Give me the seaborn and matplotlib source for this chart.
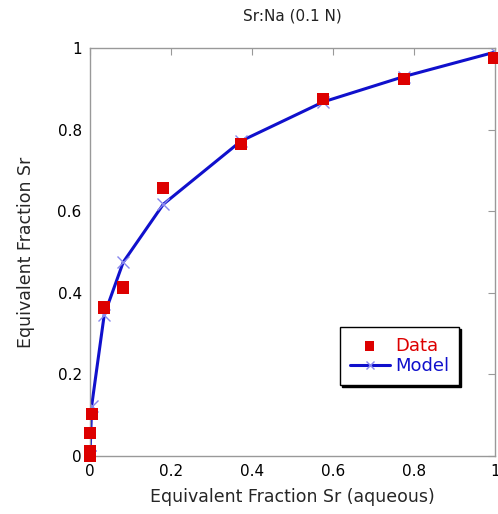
import numpy as np
import pandas as pd
import seaborn as sns
import matplotlib.pyplot as plt

# values
data_x = [0.0, 0.0, 0.0, 0.004, 0.035, 0.082, 0.181, 0.373, 0.576, 0.775, 0.998]
data_y = [0.0, 0.012, 0.057, 0.103, 0.364, 0.413, 0.656, 0.764, 0.874, 0.923, 0.975]
model_x = [0.0, 0.0, 0.004, 0.035, 0.082, 0.181, 0.373, 0.576, 0.775, 1.0]
model_y = [0.0, 0.0, 0.122, 0.345, 0.475, 0.617, 0.772, 0.868, 0.930, 0.990]
ticks = [0, 0.2, 0.4, 0.6, 0.8, 1]
tick_labels = ["0", "0.2", "0.4", "0.6", "0.8", "1"]

sns.set_style("white")
plt.rcParams['font.family'] = ['DejaVu Sans']

df_data = pd.DataFrame({"x": data_x, "y": data_y})
df_model = pd.DataFrame({"x": model_x, "y": model_y})

fig = plt.figure(figsize=(4.98, 5.14), dpi=100)
ax = fig.add_axes([0.1807, 0.1128, 0.8133, 0.7938])

sns.lineplot(data=df_model, x="x", y="y", ax=ax, estimator=None, sort=False,
             color="#1010cc", linewidth=2.2, marker="x", markersize=8,
             markeredgecolor="#8888ee", markeredgewidth=1.0, label="Model", zorder=2)
sns.scatterplot(data=df_data, x="x", y="y", ax=ax, marker="s", s=75,
                color="#dd0000", edgecolor="none", label="Data", zorder=3, clip_on=False)

ax.set_xlim(0, 1)
ax.set_ylim(0, 1)
ax.set_xticks(ticks)
ax.set_xticklabels(tick_labels)
ax.set_yticks(ticks)
ax.set_yticklabels(tick_labels)
ax.tick_params(direction="in", length=5, width=0.8, color="#999999",
               labelcolor="black", top=True, right=True, labelsize=11, pad=6)
for sp in ax.spines.values():
    sp.set_color("#999999")
    sp.set_linewidth(1.0)

ax.set_title("Sr:Na (0.1 N)", fontsize=11, pad=20, color="#222222")
ax.set_xlabel("Equivalent Fraction Sr (aqueous)", fontsize=12.5, labelpad=6)
ax.set_ylabel("Equivalent Fraction Sr", fontsize=12.5, labelpad=16)

handles, labels = ax.get_legend_handles_labels()
order = [labels.index("Data"), labels.index("Model")]
leg = ax.legend([handles[i] for i in order], [labels[i] for i in order],
                loc="upper left", bbox_to_anchor=(0.617, 0.316), borderaxespad=0,
                frameon=True, fancybox=False,
                shadow={"color": "black", "alpha": 1.0, "ox": 1.5, "oy": -1.5},
                edgecolor="black", fontsize=13,
                handlelength=2.2, handletextpad=0.3, borderpad=0.55,
                labelspacing=0.1, framealpha=1, markerscale=0.8)
leg.get_frame().set_linewidth(1.0)
leg.texts[0].set_color("#dd0000")
leg.texts[1].set_color("#1010cc")

fig.savefig("out.png", dpi=100)
